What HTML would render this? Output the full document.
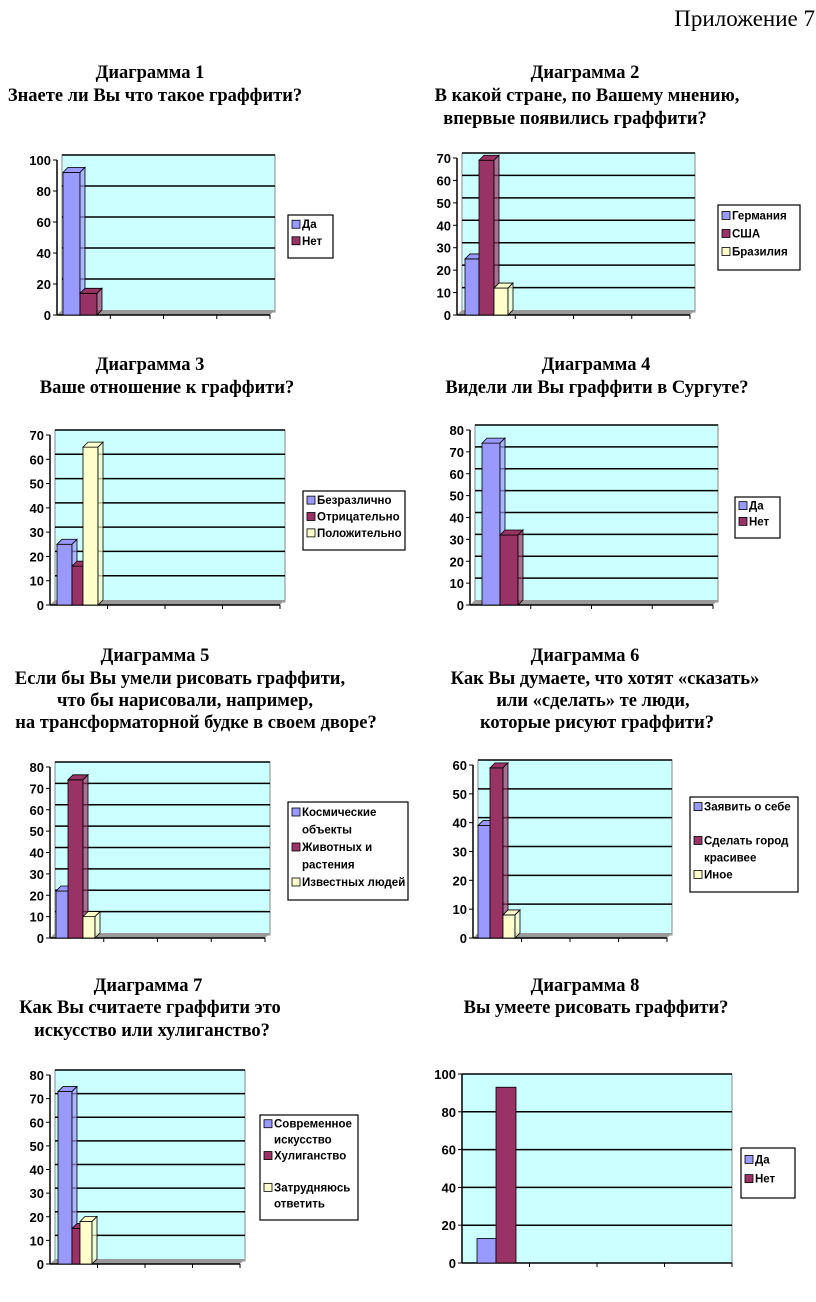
<!DOCTYPE html>
<html><head><meta charset="utf-8"><style>
body{margin:0;background:#fff;width:816px;height:1302px;overflow:hidden}
svg{display:block}
</style></head><body>
<svg id="s" width="816" height="1302" xmlns="http://www.w3.org/2000/svg" font-family="Liberation Sans, sans-serif">
<g font-family="Liberation Serif, serif" font-size="18.5" font-weight="bold" text-anchor="middle" fill="#000">
<text x="815" y="26" font-weight="normal" font-size="23" text-anchor="end">Приложение 7</text>
<text x="150" y="78">Диаграмма 1</text>
<text x="155" y="101">Знаете ли Вы что такое граффити?</text>
<text x="585" y="78">Диаграмма 2</text>
<text x="587" y="101">В какой стране, по Вашему мнению,</text>
<text x="575" y="124">впервые появились граффити?</text>
<text x="150" y="370">Диаграмма 3</text>
<text x="167" y="393">Ваше отношение к граффити?</text>
<text x="596" y="370">Диаграмма 4</text>
<text x="597" y="393">Видели ли Вы граффити в Сургуте?</text>
<text x="155" y="661">Диаграмма 5</text>
<text x="180" y="684">Если бы Вы умели рисовать граффити,</text>
<text x="185" y="706">что бы нарисовали, например,</text>
<text x="196" y="728">на трансформаторной будке в своем дворе?</text>
<text x="585" y="661">Диаграмма 6</text>
<text x="605" y="684">Как Вы думаете, что хотят «сказать»</text>
<text x="593" y="706">или «сделать» те люди,</text>
<text x="597" y="728">которые рисуют граффити?</text>
<text x="148" y="991">Диаграмма 7</text>
<text x="150" y="1013">Как Вы считаете граффити это</text>
<text x="152" y="1036">искусство или хулиганство?</text>
<text x="585" y="991">Диаграмма 8</text>
<text x="596" y="1013">Вы умеете рисовать граффити?</text>
</g>
</svg>
<script>
var B='#9999ff',M='#993366',C='#ffffcc';
var charts=[
{x0:57,x1:275,yt:160,yb:315,max:100,step:20,bars:[[92,B,63,17],[14,M,80,17]],lg:[288,215,45,43,[['Да',B],['Нет',M]]]},
{x0:457,x1:695,yt:158,yb:315,max:70,step:10,bars:[[25,B,465,14],[69,M,479,15],[12,C,494,14]],lg:[718,205,82,65,[['Германия',B],['США',M],['Бразилия',C]]]},
{x0:50,x1:285,yt:435,yb:605,max:70,step:10,bars:[[25,B,57,15],[16,M,72,11],[65,C,83,15]],lg:[303,491,102,59,[['Безразлично',B],['Отрицательно',M],['Положительно',C]]]},
{x0:470,x1:718,yt:430,yb:605,max:80,step:10,bars:[[74,B,482,18],[32,M,500,18]],lg:[735,497,45,41,[['Да',B],['Нет',M]]]},
{x0:50,x1:270,yt:767,yb:938,max:80,step:10,bars:[[22,B,56,12],[74,M,68,15],[10,C,83,12]],lg:[288,802,120,98,[['Космические|объекты',B],['Животных и|растения',M],['Известных людей',C]]]},
{x0:473,x1:672,yt:765,yb:938,max:60,step:10,bars:[[39,B,478,12],[59,M,490,13],[8,C,503,12]],lg:[690,797,108,95,[['Заявить о себе',B],['',null],['Сделать город|красивее',M],['Иное',C]]]},
{x0:50,x1:245,yt:1075,yb:1264,max:80,step:10,bars:[[73,B,58,14],[15,M,72,8],[18,C,80,12]],lg:[260,1115,98,105,[['Современное|искусство',B],['Хулиганство',M],['',null],['Затрудняюсь|ответить',C]]]},
{flat:1,x0:462,x1:732,yt:1074,yb:1263,max:100,step:20,bars:[[13,B,477,19],[93,M,496,20]],lg:[741,1148,54,50,[['Да',B],['Нет',M]]]}
];
var h='';
charts.forEach(function(c){
 var d=c.flat?0:5, H=c.yb-c.yt, sc=function(v){return c.yb-v/c.max*H;};
 h+='<rect x="'+(c.x0+d)+'" y="'+(c.yt-d)+'" width="'+(c.x1-c.x0-d)+'" height="'+(H+d-(c.flat?0:3))+'" fill="#ccffff" stroke="#888" stroke-width="1"/>';
 if(!c.flat) h+='<polygon points="'+c.x0+','+c.yb+' '+(c.x0+d)+','+(c.yb-d)+' '+c.x1+','+(c.yb-d)+' '+(c.x1-d)+','+c.yb+'" fill="#999"/>';
 for(var v=c.step;v<=c.max;v+=c.step){var y=sc(v)-d;h+='<line x1="'+(c.x0+d)+'" x2="'+c.x1+'" y1="'+y+'" y2="'+y+'" stroke="#000" stroke-width="1.5"/>';}
 for(var v=0;v<=c.max;v+=c.step){var y=sc(v);h+='<line x1="'+(c.x0-4)+'" x2="'+c.x0+'" y1="'+y+'" y2="'+y+'" stroke="#000"/><text x="'+(c.x0-6)+'" y="'+(y+5)+'" text-anchor="end" font-size="13" font-weight="bold">'+v+'</text>';}
 h+='<line x1="'+c.x0+'" x2="'+c.x0+'" y1="'+c.yt+'" y2="'+c.yb+'" stroke="#000" stroke-width="1.5"/>';
 h+='<line x1="'+c.x0+'" x2="'+(c.x1-d)+'" y1="'+c.yb+'" y2="'+c.yb+'" stroke="#000" stroke-width="1.5"/>';
 for(var i=1;i<=4;i++){var x=c.x0+(c.x1-d-c.x0)*i/4;h+='<line x1="'+x+'" x2="'+x+'" y1="'+c.yb+'" y2="'+(c.yb+4)+'" stroke="#000"/>';}
 c.bars.forEach(function(b){var y=sc(b[0]);
  h+='<rect x="'+b[2]+'" y="'+y+'" width="'+b[3]+'" height="'+(c.yb-y)+'" fill="'+b[1]+'" stroke="#000" stroke-width="0.8"/>';
  if(d){h+='<polygon points="'+b[2]+','+y+' '+(b[2]+d)+','+(y-d)+' '+(b[2]+b[3]+d)+','+(y-d)+' '+(b[2]+b[3])+','+y+'" fill="'+b[1]+'" stroke="#000" stroke-width="0.8"/>';
  h+='<polygon points="'+(b[2]+b[3])+','+y+' '+(b[2]+b[3]+d)+','+(y-d)+' '+(b[2]+b[3]+d)+','+(c.yb-d)+' '+(b[2]+b[3])+','+c.yb+'" fill="'+b[1]+'" fill-opacity="0.7" stroke="#000" stroke-width="0.8"/>';}
 });
 var L=c.lg;h+='<rect x="'+L[0]+'" y="'+L[1]+'" width="'+L[2]+'" height="'+L[3]+'" fill="#fff" stroke="#000" stroke-width="1.2"/>';
 var rows=0; L[4].forEach(function(it){rows+=it[0]?it[0].split('|').length:1;});
 var lh=L[3]/(rows+0.6), y=L[1]+lh*0.8;
 L[4].forEach(function(it){var parts=it[0]?it[0].split('|'):[''];
  if(it[1]) h+='<rect x="'+(L[0]+4)+'" y="'+(y-8)+'" width="8" height="8" fill="'+it[1]+'" stroke="#000" stroke-width="0.8"/>';
  parts.forEach(function(p,j){h+='<text x="'+(L[0]+14)+'" y="'+(y+j*lh)+'" font-size="11.5" font-weight="bold">'+p+'</text>';});
  y+=lh*parts.length;});
});
document.getElementById('s').insertAdjacentHTML('beforeend',h);
</script>
</body></html>
